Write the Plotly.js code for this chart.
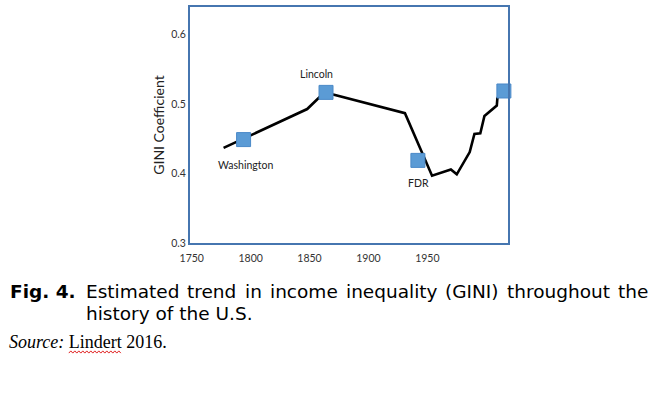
<!DOCTYPE html>
<html><head><meta charset="utf-8">
<script src="https://cdn.plot.ly/plotly-3.0.1.min.js"></script>
<style>body{margin:0;background:#fff}</style>
</head><body><div id="chart" style="width:662px;height:394px"></div>
<script>
// ---- data ----
const lineYears = [1777, 1848, 1859, 1864, 1870, 1931, 1954, 1970, 1975, 1986, 1990, 1995, 1998.5, 2009, 2009.5, 2015];
const lineGini  = [0.437, 0.493, 0.511, 0.517, 0.514, 0.487, 0.397, 0.406, 0.399, 0.431, 0.457, 0.458, 0.483, 0.498, 0.509, 0.519];
const presNames = ['Washington', 'Lincoln', 'FDR', ''];
const presYears = [1794, 1864, 1942, 2015];
const presGini  = [0.449, 0.517, 0.419, 0.519];
const labelYears = [1796, 1856, 1942.5];
const labelGini  = [0.412, 0.544, 0.387];
const xTicks = [1750, 1800, 1850, 1900, 1950];
const yTicks = [0.3, 0.4, 0.5, 0.6];
const yTickText = ['0.3', '0.4', '0.5', '0.6'];
const captionLabel = 'Fig. 4.';
const captionLine1 = ['Estimated', 'trend', 'in', 'income', 'inequality', '(GINI)', 'throughout', 'the'];
const captionLine2 = 'history of the U.S.';
const sourceLabel = 'Source:';
const sourceText = ['Lindert', '2016.'];

// ---- layout helpers (page pixels -> paper) ----
const M = {l: 190, r: 154, t: 7, b: 151};
const PW = 662 - M.l - M.r, PH = 394 - M.t - M.b;
const P = px => (px - M.l) / PW;
const Q = py => (394 - M.b - py) / PH;

const ctx = document.createElement('canvas').getContext('2d');
function tw(text, font) { ctx.font = font; return ctx.measureText(text).width; }

const sans = 'Lato, "Open Sans", sans-serif';
const annotations = [];
for (let i = 0; i < labelYears.length; i++) {
  annotations.push({x: labelYears[i], y: labelGini[i], xref: 'x', yref: 'y', text: presNames[i],
    showarrow: false, font: {family: sans, size: 10.5, color: '#222'}});
}

// caption (justified first line)
const capSize = 18.5;
const capFont = {family: '"DejaVu Sans", Verdana, sans-serif', size: capSize, color: '#000'};
const capCss = capSize + 'px "DejaVu Sans"';
const PAD = 2;
const y1 = 291.5, y2 = 313, y3 = 341.5;
annotations.push({x: P(10 - PAD), y: Q(y1), xref: 'paper', yref: 'paper', xanchor: 'left', yanchor: 'middle',
  text: '<b>' + captionLabel + '</b>', showarrow: false, font: capFont});
const startX = 86, endX = 648;
const widths = captionLine1.map(w => tw(w, capCss));
const total = widths.reduce((a, b) => a + b, 0);
const gap = (endX - startX - total) / (captionLine1.length - 1);
let cx = startX;
captionLine1.forEach((w, i) => {
  annotations.push({x: P(cx - PAD), y: Q(y1), xref: 'paper', yref: 'paper',
    xanchor: 'left', yanchor: 'middle', text: w, showarrow: false, font: capFont});
  cx += widths[i] + gap;
});
annotations.push({x: P(startX - PAD), y: Q(y2), xref: 'paper', yref: 'paper', xanchor: 'left', yanchor: 'middle',
  text: captionLine2, showarrow: false, font: capFont});

// source line
const srcSize = 18;
const srcX = 9;
annotations.push({x: P(srcX - PAD), y: Q(y3), xref: 'paper', yref: 'paper', xanchor: 'left', yanchor: 'middle',
  text: '<i>' + sourceLabel + '</i> ' + sourceText.join(' '), showarrow: false,
  font: {family: '"Liberation Serif", "Times New Roman", serif', size: srcSize, color: '#000'}});

// red spell-check squiggle under "Lindert"
const sqStart = srcX + tw(sourceLabel, 'italic ' + srcSize + 'px "Liberation Serif"') + tw(' ', srcSize + 'px "Liberation Serif"');
const sqEnd = sqStart + tw(sourceText[0], srcSize + 'px "Liberation Serif"');
let sq = '';
for (let px = sqStart, k = 0; px <= sqEnd + 0.1; px += 2, k++) {
  const py = 352 + (k % 2 ? -1.1 : 1.1);
  sq += (k === 0 ? 'M' : 'L') + P(px).toFixed(5) + ',' + Q(py).toFixed(5) + ' ';
}

const traces = [
  {x: lineYears, y: lineGini, type: 'scatter', mode: 'lines', line: {color: '#000', width: 2.6},
   hoverinfo: 'skip', cliponaxis: false},
  {x: presYears, y: presGini, type: 'scatter', mode: 'markers', text: presNames,
   marker: {symbol: 'square', size: 14, color: '#5b9bd5', line: {color: '#4a89c8', width: 1}},
   cliponaxis: false}
];

const axisLine = {showline: true, mirror: true, linecolor: '#4676b0', linewidth: 2,
  showgrid: false, zeroline: false, ticks: '', fixedrange: true};

const layout = {
  width: 662, height: 394, margin: M, showlegend: false,
  paper_bgcolor: '#fff', plot_bgcolor: '#fff',
  xaxis: Object.assign({}, axisLine, {range: [1748.5, 2018.5], tickmode: 'array', tickvals: xTicks,
    tickfont: {family: sans, size: 10.5, color: '#333'}, ticklabelstandoff: 4}),
  yaxis: Object.assign({}, axisLine, {range: [0.3, 0.64], tickmode: 'array', tickvals: yTicks, ticktext: yTickText,
    tickfont: {family: sans, size: 10.5, color: '#333'}, ticklabelstandoff: 1.5,
    title: {text: 'GINI Coefficient', font: {family: sans, size: 14, color: '#222'}, standoff: 3},
    automargin: true}),
  annotations: annotations,
  shapes: [{type: 'path', xref: 'paper', yref: 'paper', path: sq, line: {color: '#e02020', width: 1}}]
};

Plotly.newPlot('chart', traces, layout, {staticPlot: true, displayModeBar: false});
</script></body></html>
